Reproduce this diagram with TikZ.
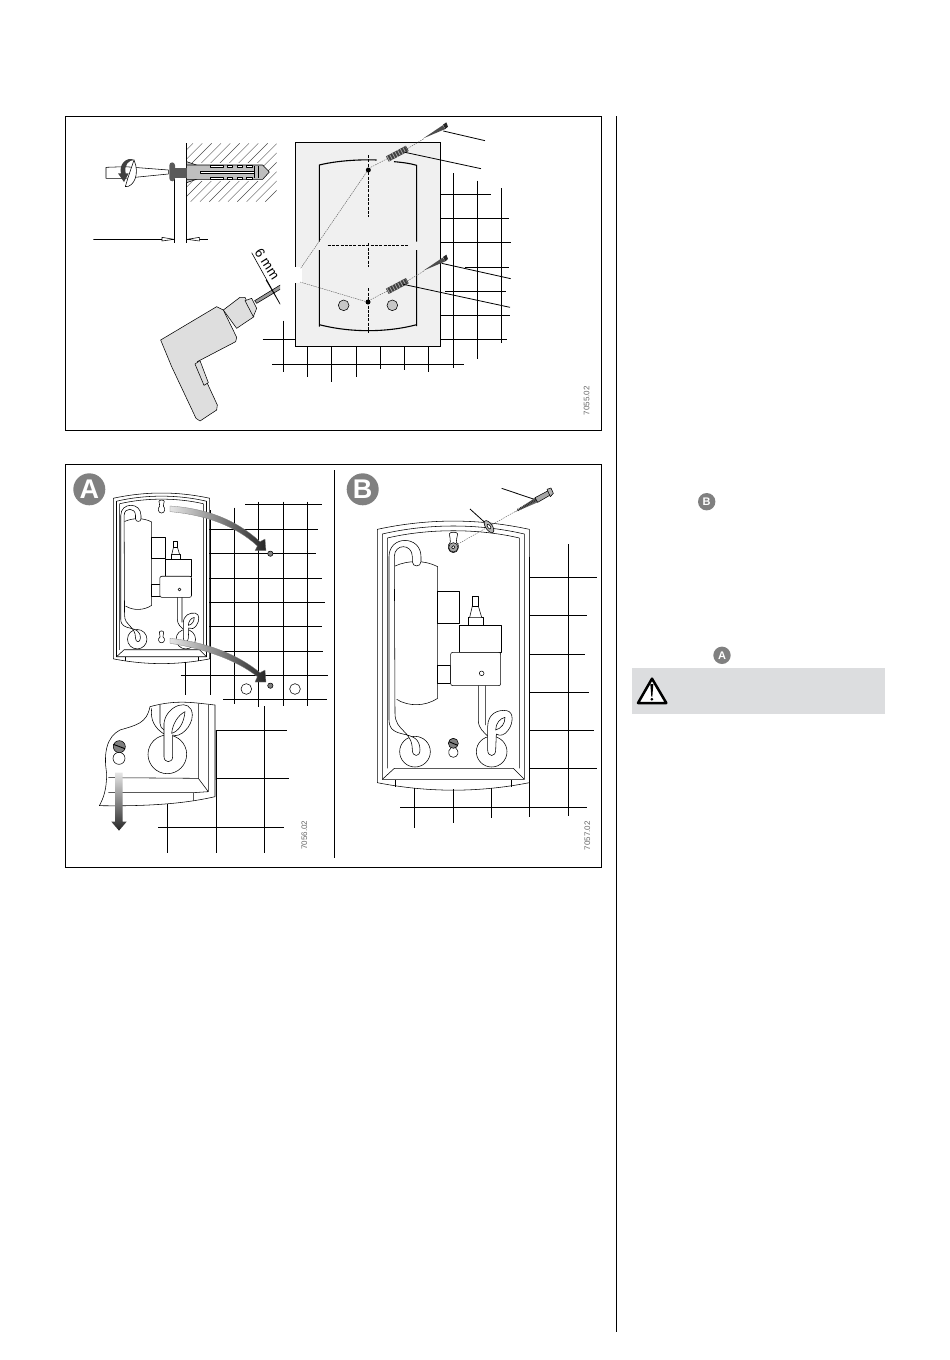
\documentclass[tikz,border=0pt]{standalone}
\usepackage{fontspec}
\setmainfont{Liberation Sans}
\usepackage{tikz}
\usetikzlibrary{positioning, arrows, shapes}
\definecolor{platefill}{HTML}{F0F0F0}
\definecolor{boxfill}{HTML}{DCDDDF}
\definecolor{badgefill}{HTML}{808080}
\definecolor{drillfill}{HTML}{DEDEDE}
\tikzstyle{frameline} = [draw=black, line width=0.9pt]
\tikzstyle{gridline} = [draw=black, line width=0.8pt]
\tikzstyle{thinline} = [draw=black, line width=0.55pt, line join=round]
\tikzstyle{leadline} = [draw=black!65, line width=0.4pt]
\tikzstyle{badge} = [circle, fill=badgefill, text=white, font=\bfseries, inner sep=0pt]
\tikzstyle{partno} = [rotate=90, text=black!60, font=\fontsize{8}{8}\selectfont]
\tikzstyle{viewleft} = [shift={(60,110)}, scale=1/3]
\tikzstyle{viewright} = [shift={(270,110)}, scale=1/3]
\tikzstyle{viewA} = [shift={(60,460)}, scale=1/3]
\tikzstyle{viewB} = [shift={(335,460)}, scale=1/3]
\tikzstyle{viewheaterA} = [shift={(86.5,454.3)}, scale=0.2113]
\tikzstyle{viewnote} = [shift={(610,480)}, scale=1/3]
\newcommand{\drawfixing}[1]{
  \begin{scope}[shift={(0,#1)}]
    \draw[leadline, dash pattern=on 1.5pt off 1pt] (302,172) -- (352,146) (412,116) -- (462,86);
    \draw[line width=6pt, draw=black!75] (352,147) -- (412,115);
    \draw[line width=6pt, draw=black!35, dash pattern=on 0.8pt off 2.2pt] (354,146) -- (410,116);
    \fill[black!70] (460,85) -- (518,46) -- (526,57) -- cycle;
    \fill[black!85] (519,44) -- (529,37) -- (534,50) -- (526,57) -- cycle;
  \end{scope}
}
\newcommand{\drawheater}{
  \draw[thinline] (127,208) .. controls (280,175) and (430,175) .. (583,208) -- (583,968) .. controls (430,998) and (280,998) .. (127,968) -- cycle;
  \draw[thinline] (142,222) .. controls (280,190) and (430,190) .. (568,222) -- (568,958) -- (142,958) -- cycle;
  \draw[thinline] (157,234) .. controls (280,205) and (430,205) .. (553,234) (157,234) -- (157,925) (553,234) -- (553,925);
  \draw[thinline] (142,958) -- (178,925) -- (535,925) -- (568,958);
  \draw[thinline] (182,960) -- (182,980) (528,960) -- (528,980);
  \draw[thinline] (343,222) .. controls (343,215) and (368,215) .. (368,222) .. controls (368,232) and (362,238) .. (364,246) .. controls (376,256) and (370,278) .. (355,278) .. controls (340,278) and (334,256) .. (346,246) .. controls (348,238) and (343,232) .. (343,222) -- cycle;
  \draw[thinline] (345,842) .. controls (345,834) and (365,834) .. (365,842) .. controls (365,852) and (361,856) .. (362,864) .. controls (374,872) and (370,892) .. (355,892) .. controls (340,892) and (336,872) .. (348,864) .. controls (349,856) and (345,852) .. (345,842) -- cycle;
  \draw[thinline] (240,875) circle (46);
  \draw[thinline] (470,875) circle (46);
  \fill[white] (180,318) .. controls (220,300) and (270,300) .. (308,320) -- (308,715) .. controls (270,740) and (220,740) .. (185,718) -- cycle;
  \draw[thinline] (180,318) .. controls (220,300) and (270,300) .. (308,320) -- (308,715) .. controls (270,740) and (220,740) .. (185,718);
  \draw[thinline, fill=white] (308,395) rectangle (372,490);
  \draw[thinline, fill=white] (308,615) rectangle (347,670);
  \draw[thinline, fill=white] (373,495) rectangle (498,577);
  \draw[thinline, fill=white, rounded corners=2] (347,577) rectangle (497,677);
  \draw[thinline, fill=white] (400,472) rectangle (445,495);
  \draw[thinline, fill=white] (404,472) -- (412,438) -- (430,438) -- (440,472);
  \draw[thinline, fill=white] (412,410) rectangle (430,438);
  \draw[thinline] (440,640) circle (7);
  \draw[thinline, fill=white] (162,290) .. controls (162,225) and (258,225) .. (258,290) -- (258,305) .. controls (258,322) and (232,322) .. (232,305) -- (232,290) .. controls (232,250) and (178,250) .. (178,290) -- (180,760) .. controls (180,815) and (232,810) .. (232,870) .. controls (232,892) and (255,892) .. (255,870) .. controls (255,800) and (162,845) .. (162,780) -- cycle;
  \draw[thinline] (430,677) -- (430,780) .. controls (430,805) and (445,815) .. (458,828) (452,677) -- (452,795);
  \draw[thinline, fill=white] (458,870) -- (458,800) .. controls (458,760) and (490,748) .. (515,752) .. controls (537,755) and (535,790) .. (520,810) .. controls (510,825) and (495,830) .. (484,822) -- (482,870) .. controls (482,892) and (458,892) .. (458,870) -- cycle;
  \draw[thinline] (482,810) .. controls (482,790) and (495,775) .. (510,772) .. controls (510,790) and (500,805) .. (482,810) -- cycle;
}
\begin{document}
\begin{tikzpicture}[x=1pt, y=-1pt]
  \useasboundingbox (0,0) rectangle (950,1360);
  \draw[frameline] (65.5,116) rectangle (601.5,430);
  \draw[frameline] (65.5,464) rectangle (601.5,867);
  \draw[frameline] (616.5,116) -- (616.5,1332);
  \draw[frameline] (334,470) -- (334,858);

  \begin{scope}[viewright]
    \draw[gridline] (438,253) -- (662,253) (438,325) -- (717,325) (438,397) -- (723,397);
    \draw[gridline] (585,472) -- (716,472) (525,544) -- (708,544) (438,616) -- (720,616) (438,688) -- (710,688);
    \draw[gridline] (549,190) -- (549,775) (622,212) -- (622,748) (694,235) -- (694,700);
    \draw[gridline] (6,763) -- (582,763) (-22,688) -- (76,688) (40,632) -- (40,786);
    \draw[gridline] (112,710) -- (112,802) (184,710) -- (184,815) (259,710) -- (259,802);
    \draw[gridline] (331,710) -- (331,778) (403,710) -- (403,780) (475,710) -- (475,785);
    \draw[frameline, fill=platefill] (76,97) rectangle (511,710);
    \fill[white] (70,470) -- (95,470) -- (95,520) -- (70,520) -- cycle;
    \draw[line width=1.1pt] (148,650) -- (148,420) (148,395) -- (148,165) .. controls (200,152) and (270,148) .. (320,150);
    \draw[line width=1.1pt] (372,155) .. controls (395,157) and (420,160) .. (440,166) -- (440,395) (440,420) -- (440,648);
    \draw[line width=1.1pt] (148,644) .. controls (240,668) and (350,668) .. (440,644);
    \draw[gridline, dash pattern=on 3pt off 1.3pt] (295,135) -- (295,322) (295,400) -- (295,470) (295,535) -- (295,670);
    \draw[gridline, dash pattern=on 3pt off 1.3pt] (173,406) -- (413,406);
    \draw[leadline, dash pattern=on 1.5pt off 0.8pt] (92,475) -- (290,186) (90,516) -- (285,574);
    \fill[black] (295,180) circle (7.5) (294,576) circle (7.5);
    \draw[thinline, fill=black!22] (221,586) circle (16) (367,586) circle (16);
    \drawfixing{0}
    \drawfixing{397}
    \draw[gridline] (520,63) -- (645,92) (405,127) -- (633,176) (515,460) -- (722,506) (400,523) -- (720,592);
    \node (partone) [partno] at (950,872) {7055.02};
  \end{scope}

  \begin{scope}[viewleft]
    \clip (100,90) rectangle (660,960);
    \begin{scope}
      \clip (380,100) rectangle (650,275);
      \foreach \hatchx in {140,168,...,620}
        \draw[draw=black!70, line width=0.4pt] (\hatchx,275) -- (\hatchx+175,100);
    \end{scope}
    \fill[white] (381,160) rectangle (605,212);
    \draw[gridline] (380,100) -- (380,398) (344,205) -- (344,398);
    \draw[gridline] (100,388) -- (344,388) (380,388) -- (443,388);
    \draw[thinline, fill=white] (306,382) -- (342,388) -- (306,393) -- cycle;
    \draw[thinline, fill=white] (418,382) -- (382,388) -- (418,393) -- cycle;
    \draw[thinline, fill=black!25] (380,155) -- (412,166) -- (380,170) -- cycle;
    \draw[thinline, fill=black!25] (380,218) -- (412,207) -- (380,205) -- cycle;
    \draw[thinline, fill=black!25] (380,165) -- (608,165) -- (628,186) -- (608,208) -- (380,208) -- cycle;
    \draw[thinline, fill=white] (450,166) rectangle (490,172) (503,166) rectangle (518,172) (532,166) rectangle (546,172) (560,166) rectangle (578,172);
    \draw[thinline, fill=white] (450,201) rectangle (490,207) (503,201) rectangle (518,207) (532,201) rectangle (546,207) (560,201) rectangle (578,207);
    \draw[thinline, fill=white] (420,183) -- (582,183) -- (582,191) -- (420,191) -- cycle;
    \draw[thinline] (582,168) -- (582,205) (595,168) -- (595,205);
    \fill[black!65] (345,175) rectangle (380,205);
    \fill[black!65, rounded corners=3] (328,157) rectangle (345,214);
    \draw[thinline, fill=white] (138,172) -- (195,170) -- (325,180) -- (325,192) -- (195,205) -- (138,205) -- cycle;
    \draw[thinline, fill=white] (196,230) .. controls (222,232) and (240,190) .. (222,150) -- (205,200) -- cycle;
    \fill[black!75] (224,150) .. controls (198,138) and (176,165) .. (183,190) -- (174,190) -- (192,216) -- (206,190) -- (197,190) .. controls (192,165) and (205,150) .. (224,150) -- cycle;
    \draw[thinline, fill=drillfill] (302,690) -- (470,590) -- (490,600) -- (530,682) -- (527,695) -- (412,755) -- (472,885) -- (470,900) -- (420,933) -- (408,925) -- (335,770) -- cycle;
    \draw[thinline, fill=drillfill] (405,762) -- (420,752) -- (445,818) -- (432,826) -- cycle;
    \draw[thinline, fill=drillfill] (490,600) -- (540,562) -- (555,562) -- (582,620) -- (530,655) -- cycle;
    \draw[thinline, fill=drillfill] (555,572) -- (575,565) -- (590,595) -- (580,620) -- cycle;
    \draw[thinline, fill=black!40] (584,572) -- (692,506) -- (699,512) -- (692,519) -- (590,580) -- cycle;
    \draw[gridline, line width=0.6pt] (575,428) -- (672,603) (618,510) -- (660,582);
    \node (drillsize) [rotate=-57, font=\fontsize{13.5}{13.5}\selectfont] at (622,462) {6 mm};
  \end{scope}

  \node (badgeA) [badge, minimum size=32pt, font=\bfseries\fontsize{27}{27}\selectfont] at (89.3,489.3) {A};
  \node (badgeB) [badge, minimum size=32pt, font=\bfseries\fontsize{27}{27}\selectfont] at (362.7,489.3) {B};

  \begin{scope}[viewA]
    \draw[gridline] (555,133) -- (785,133) (448,208) -- (775,208) (448,280) -- (768,280) (448,355) -- (787,355);
    \draw[gridline] (448,427) -- (795,427) (448,498) -- (787,498) (448,574) -- (790,574);
    \draw[gridline] (362,646) -- (803,646) (490,718) -- (800,718);
    \draw[gridline] (523,143) -- (523,733) (595,125) -- (595,740) (670,125) -- (670,737) (742,125) -- (742,737);
    \draw[gridline] (450,150) -- (450,705) (375,605) -- (375,705);
    \draw[thinline, fill=white] (559,687) circle (16) (705,687) circle (16);
    \draw[thinline, fill=black!50] (631,281) circle (8) (631,677) circle (8);
    \draw[gridline] (612,738) -- (612,1180) (468,810) -- (468,1180) (322,1030) -- (322,1180);
    \draw[gridline] (468,811) -- (680,811) (468,955) -- (687,955) (295,1102) -- (672,1102);
  \end{scope}

  \begin{scope}[viewheaterA]
    \drawheater
  \end{scope}

  \begin{scope}[viewA]
    \shade[left color=black!10, right color=black!85, draw=black!50, line width=0.3pt] (330,138) .. controls (440,145) and (530,180) .. (600,245) -- (615,237) -- (618,272) -- (585,272) -- (592,258) .. controls (530,200) and (440,165) .. (330,155) -- cycle;
    \shade[left color=black!10, right color=black!85, draw=black!50, line width=0.3pt] (330,535) .. controls (430,545) and (530,580) .. (600,638) -- (615,630) -- (618,666) -- (585,666) -- (592,650) .. controls (530,600) and (430,565) .. (330,550) -- cycle;
    \draw[thinline, fill=white] (270,740) .. controls (350,718) and (400,728) .. (465,735) -- (465,1010) .. controls (400,1025) and (300,1040) .. (118,1037) .. controls (130,1015) and (140,990) .. (140,940) .. controls (130,880) and (140,830) .. (180,810) .. controls (230,795) and (260,790) .. (270,740) -- cycle;
    \draw[thinline] (415,730) -- (415,955) -- (145,953) (445,735) -- (445,995) -- (415,955) (145,998) -- (400,998) -- (400,1022) (445,995) -- (400,998);
    \draw[thinline] (322,883) circle (58);
    \draw[thinline] (275,745) .. controls (270,780) and (285,805) .. (312,822) (300,735) -- (300,790) .. controls (300,800) and (305,805) .. (312,810);
    \draw[thinline, fill=white] (312,890) -- (312,790) .. controls (318,735) and (395,710) .. (397,765) .. controls (397,800) and (360,835) .. (338,825) -- (338,890) .. controls (338,910) and (312,910) .. (312,890) -- cycle;
    \draw[thinline] (335,820) .. controls (338,790) and (355,765) .. (375,755) .. controls (372,790) and (355,815) .. (335,820) -- cycle;
    \draw[thinline] (177,895) circle (18);
    \draw[thinline, fill=black!50] (178,860) circle (18);
    \draw[line width=0.9pt] (160,853) -- (195,866);
    \draw[line width=1pt, draw=black!50] (467,810) -- (467,960);
    \shade[top color=black!10, bottom color=black!85] (165,938) -- (188,938) -- (188,1085) -- (200,1085) -- (177,1112) -- (154,1085) -- (165,1085) -- cycle;
    \node (parttwo) [partno] at (733,1125) {7056.02};
  \end{scope}

  \begin{scope}[viewB]
    \draw[gridline] (583,352) -- (785,352) (583,466) -- (757,466) (583,583) -- (750,583) (583,697) -- (762,697);
    \draw[gridline] (583,811) -- (777,811) (583,925) -- (785,925) (195,1042) -- (755,1042);
    \draw[gridline] (700,252) -- (700,1068) (583,290) -- (583,1072) (470,985) -- (470,1075) (355,988) -- (355,1088) (238,985) -- (238,1103);
    \drawheater
    \draw[line width=1.3pt] (583,290) -- (583,960);
    \draw[leadline, dash pattern=on 1.5pt off 1pt] (355,260) -- (540,155);
    \draw[thinline, fill=black!35] (355,262) circle (14);
    \draw[thinline, fill=white] (355,262) circle (5);
    \draw[thinline, fill=black!50] (355,850) circle (15);
    \draw[line width=0.9pt] (342,845) -- (368,856);
    \draw[gridline] (405,147) -- (458,195) (500,85) -- (598,118);
    \draw[thinline, fill=black!30, rotate around={-55:(462,200)}] (462,200) ellipse (21 and 10);
    \draw[thinline, fill=white, rotate around={-55:(462,200)}] (462,200) ellipse (8 and 4);
    \fill[black!60] (538,157) -- (600,113) -- (608,127) -- cycle;
    \draw[line width=2.5pt, draw=black!85, dash pattern=on 0.7pt off 1pt] (548,150) -- (603,119);
    \draw[thinline, fill=black!35] (600,113) -- (640,92) -- (646,105) -- (608,127) -- cycle;
    \draw[thinline, fill=black!30] (636,88) -- (648,84) -- (655,100) -- (646,110) -- cycle;
    \node (partthree) [partno] at (757,1127) {7057.02};
  \end{scope}

  \begin{scope}[viewnote]
    \fill[boxfill] (65,565) rectangle (825,703);
    \draw[line width=2.5pt, line join=round, fill=white] (126,596) -- (169,669) -- (84,669) -- cycle;
    \fill[black] (121,612) -- (130,612) -- (127,650) -- (124,650) -- cycle;
    \fill[black] (125.5,658) circle (4.5);
  \end{scope}
  \node (markB) [badge, minimum size=17.4pt, font=\bfseries\fontsize{11}{11}\selectfont] at (706.7,501.7) {B};
  \node (markA) [badge, minimum size=17.4pt, font=\bfseries\fontsize{11}{11}\selectfont] at (722,655.3) {A};
\end{tikzpicture}
\end{document}
